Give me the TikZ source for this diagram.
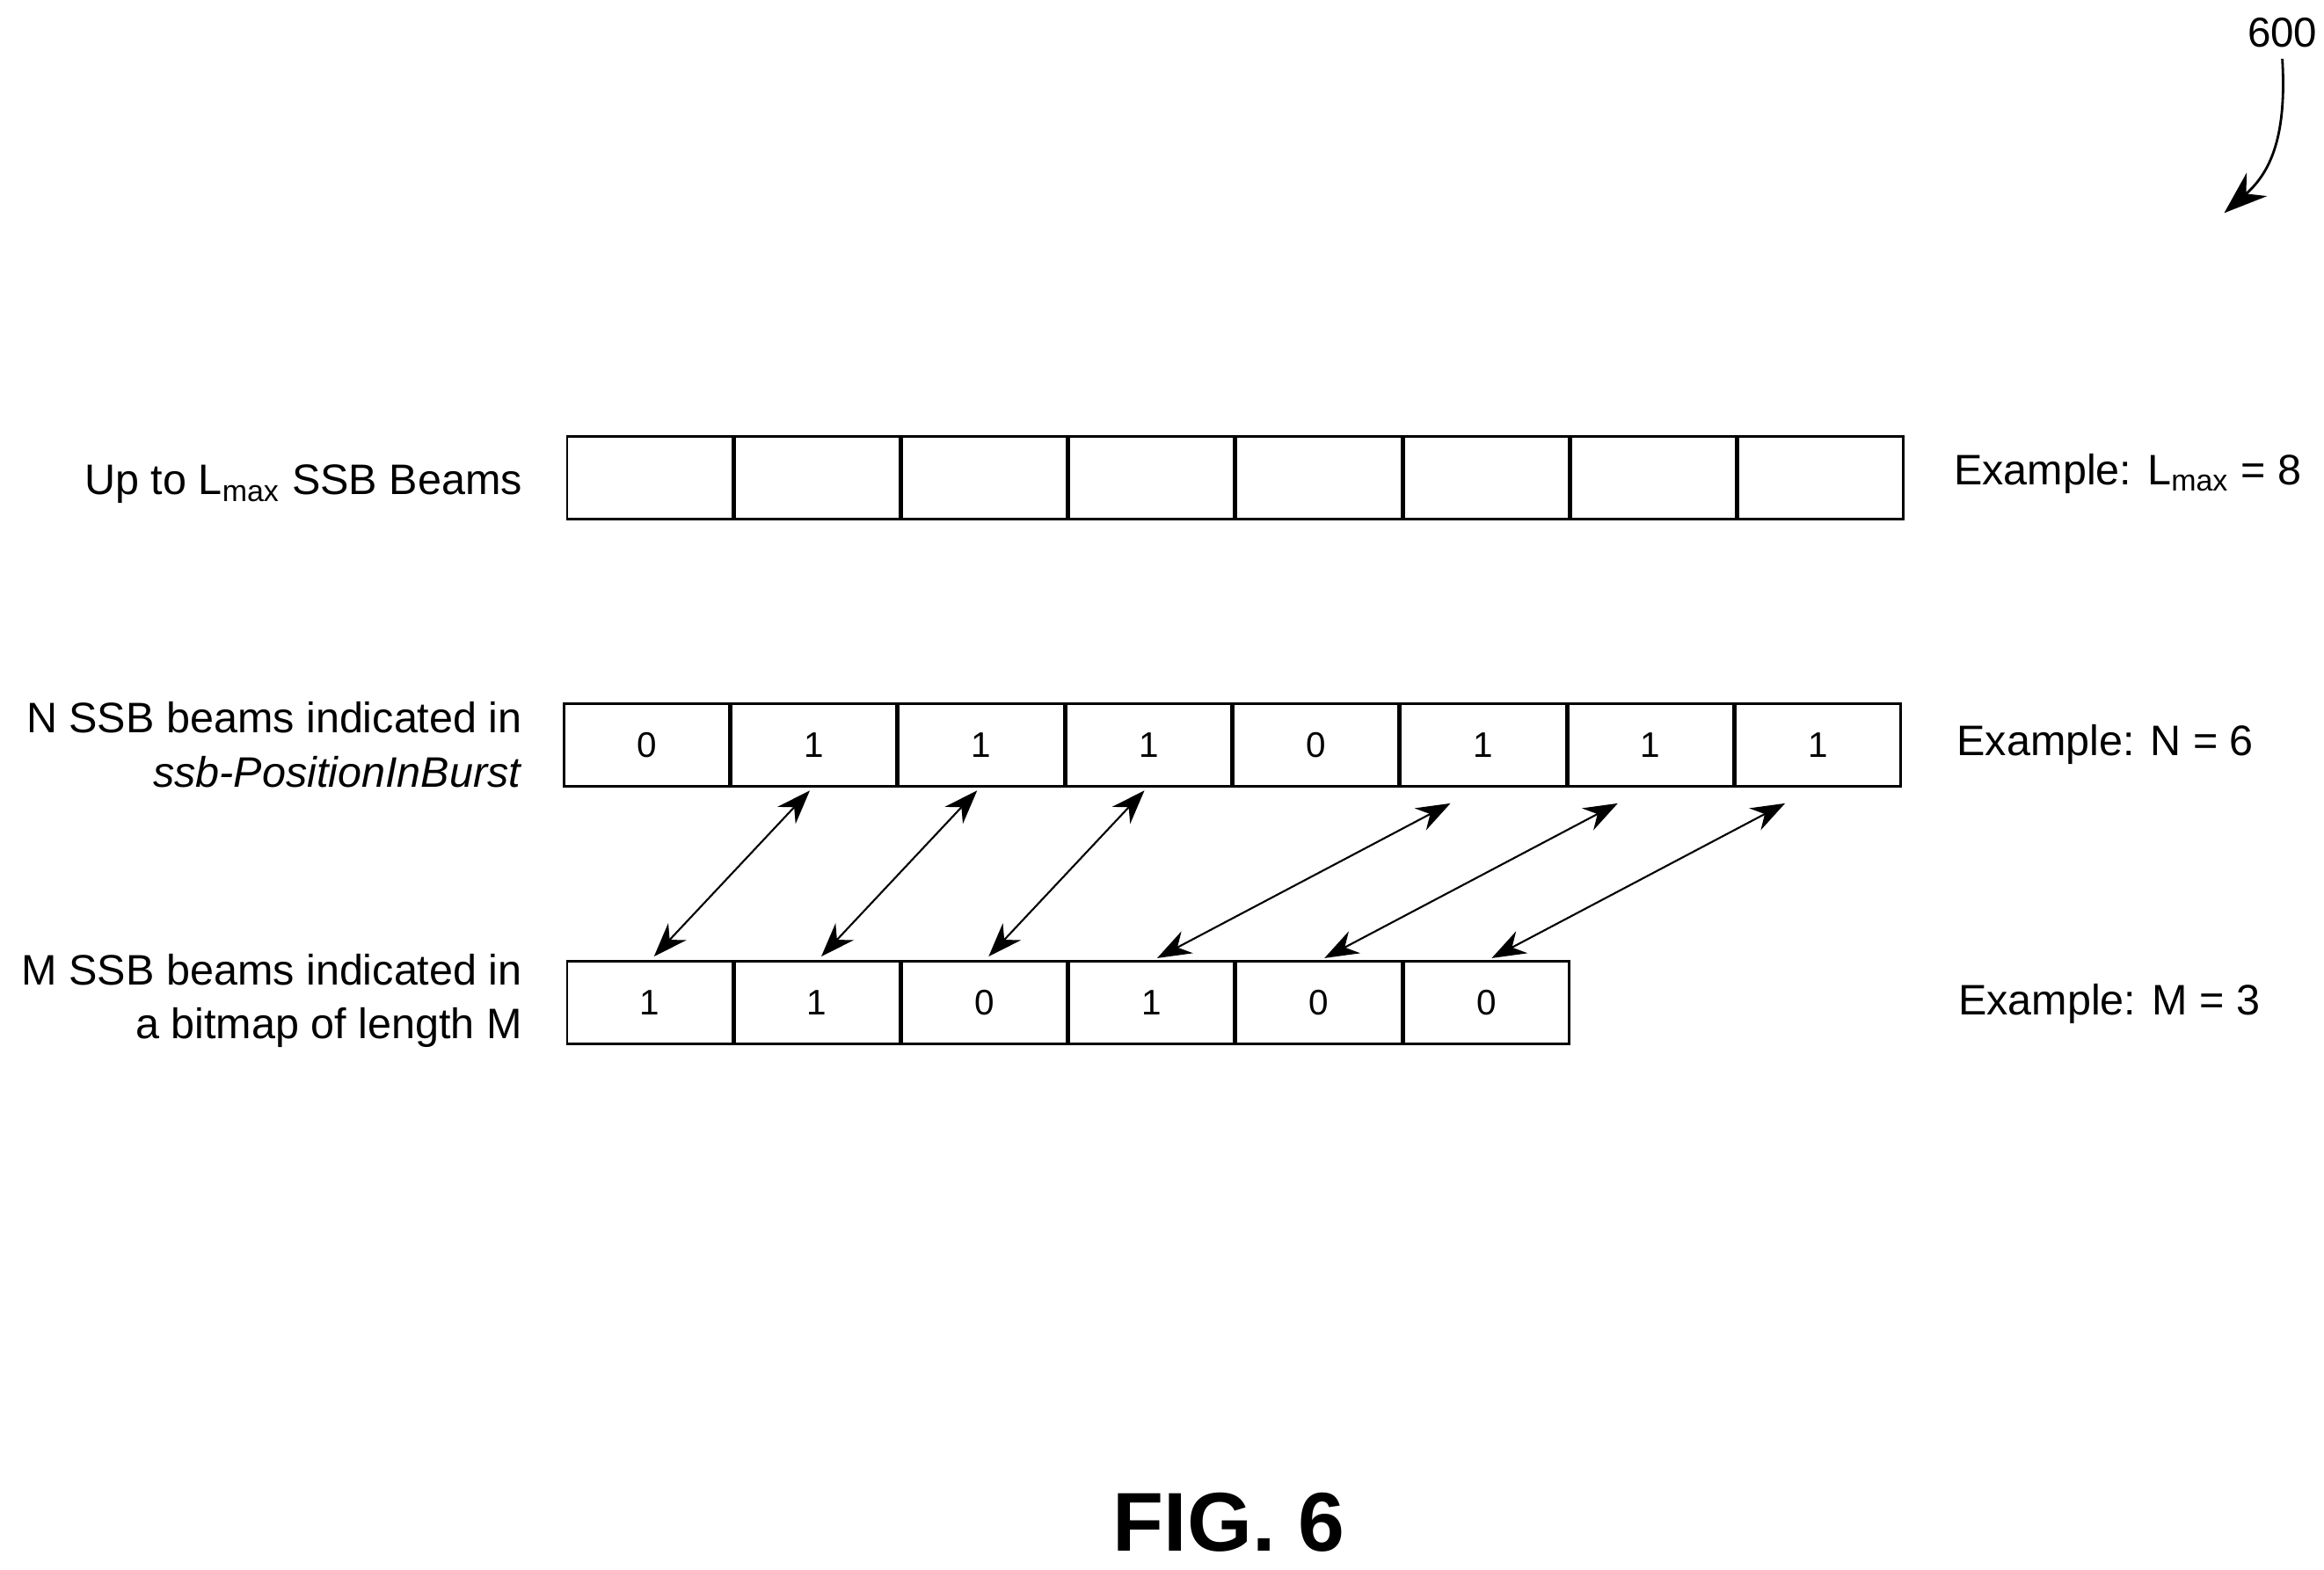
\documentclass[tikz,border=0pt]{standalone}
\usepackage{fontspec}
\setmainfont{Liberation Sans}
\usetikzlibrary{positioning}
\usetikzlibrary{arrows.meta}

\begin{document}
\begin{tikzpicture}[
            x = 0.01694cm, y = -0.01694cm,
            >={Stealth[length=11pt,width=8pt]},
            semithick
        ]

        \tikzset{
            cell/.style = {draw, thick, minimum width=1.88cm, minimum height=0.94cm,
                           inner sep=0pt, outer sep=0pt, font=\fontsize{11.5}{13}\selectfont},
            lbl/.style = {anchor=east, align=right, font=\fontsize{13.8}{17.5}\selectfont},
            ex/.style = {anchor=west, font=\fontsize{13.8}{16}\selectfont}
        }

        \useasboundingbox (0,0) rectangle (1560,1054);

	% beams row
        \foreach \i in {1,...,8}
            \node[cell] (l\i) at ({380+112.3*(\i-0.5)},321) {};

	% ssb-PositionInBurst row
        \foreach \v [count=\i] in {0,1,1,1,0,1,1,1}
            \node[cell] (n\i) at ({378+112.3*(\i-0.5)},500) {\v};

	% bitmap row
        \foreach \v [count=\i] in {1,1,0,1,0,0}
            \node[cell] (m\i) at ({380+112.3*(\i-0.5)},673) {\v};

         % mapping
         \foreach \a/\b in {1/2,2/3,3/4}
             \draw[<->, shorten <=2pt, shorten >=2pt] (m\a.north) -- (n\b.south);
         \foreach \a/\b in {4/6,5/7,6/8}
             \draw[<->, shorten <=2pt, shorten >=12pt] (m\a.north) -- (n\b.south);

         % labels
         \node[lbl] (tl) at (358,325) {Up to L\textsubscript{max} SSB Beams};
         \node[lbl] (tn) at (358,500) {N SSB beams indicated in\\\textit{ssb-PositionInBurst}};
         \node[lbl] (tm) at (358,672) {M SSB beams indicated in\\a bitmap of length M};

         \node[ex] (el) at (1304,318) {Example: L\textsubscript{max} = 8};
         \node[ex] (en) at (1306,500) {Example: N = 6};
         \node[ex] (em) at (1307,674) {Example: M = 3};

         \node[font=\fontsize{27}{30}\selectfont\bfseries] (fig) at (825,1022) {FIG. 6};

         \node[font=\fontsize{13.5}{15}\selectfont] (ref) at (1532,22) {600};
         \coordinate (refend) at (1493,143);
         \draw[-{Stealth[length=14pt,width=10pt]}, thick] (ref.south) .. controls (1535,90) and (1525,115) .. (refend);

  \end{tikzpicture}
\end{document}
